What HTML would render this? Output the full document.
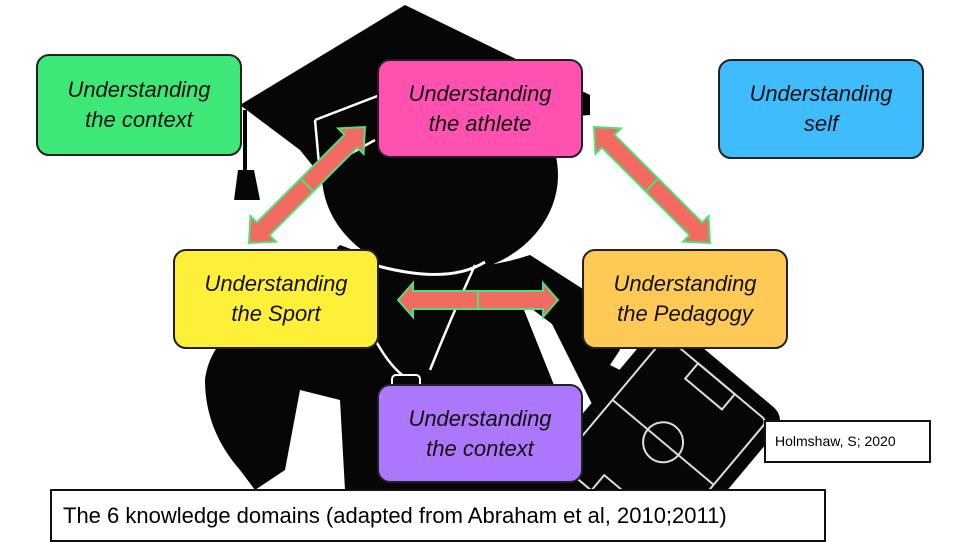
<!DOCTYPE html>
<html><head><meta charset="utf-8"><style>
body{margin:0;width:960px;height:540px;background:#fff;overflow:hidden;position:relative;font-family:"Liberation Sans",sans-serif}
.b{position:absolute;border:2px solid #222;border-radius:13px;box-sizing:border-box;display:flex;align-items:center;justify-content:center;text-align:center;font-style:italic;font-size:22px;line-height:30px;color:#111}
</style></head><body>
<svg width="960" height="540" style="position:absolute;left:0;top:0">
<!-- body -->
<path d="M205,380 Q210,330 290,290 L340,245 Q440,285 530,255 L600,300 L620,350 L600,380 L560,330 L520,300 L560,400 L570,490 L345,490 L340,400 L300,390 L285,470 L255,490 L240,470 Q205,430 205,380 Z" fill="#060606"/>
<path d="M540,300 L600,360 L640,380 L600,420 Z" fill="#060606"/>
<!-- head -->
<ellipse cx="440" cy="175" rx="118" ry="100" fill="#060606"/>
<!-- cap -->
<path d="M240,105 L405,5 L590,95 L590,115 L470,125 L320,175 L300,150 Z" fill="#060606"/>
<path d="M315,120 L320,175 M315,120 L380,95" stroke="#fff" stroke-width="2.5" fill="none"/>
<path d="M330,165 L375,140" stroke="#fff" stroke-width="2.5"/>
<!-- tassel -->
<line x1="245" y1="110" x2="245" y2="170" stroke="#060606" stroke-width="4"/>
<path d="M238,170 L254,170 L260,200 L234,200 Z" fill="#060606"/>
<!-- lanyard -->
<path d="M335,245 Q345,290 370,330 Q390,370 410,380 M475,265 Q450,320 430,370" stroke="#fff" stroke-width="2.5" fill="none"/>
<path d="M343,255 Q440,290 485,262" stroke="#fff" stroke-width="3" fill="none"/>
<rect x="392" y="375" width="28" height="22" rx="4" fill="#060606" stroke="#fff" stroke-width="2"/>
<!-- clipboard -->
<g transform="translate(665,440) rotate(40)">
<rect x="-80" y="-95" width="160" height="195" rx="18" fill="#060606"/>
<rect x="-66" y="-80" width="132" height="166" rx="6" fill="none" stroke="#ddd" stroke-width="2"/>
<line x1="-66" y1="3" x2="66" y2="3" stroke="#ddd" stroke-width="2"/>
<ellipse cx="0" cy="3" rx="20" ry="20" fill="none" stroke="#ddd" stroke-width="2"/>
<rect x="-24" y="-80" width="48" height="20" fill="none" stroke="#ddd" stroke-width="2"/>
<rect x="-24" y="66" width="48" height="20" fill="none" stroke="#ddd" stroke-width="2"/>
</g>
<!-- arrows -->
<g fill="#f26b63" stroke="#4ee07a" stroke-width="2">
<g transform="translate(307,185) rotate(-45)">
<path d="M-82,0 L-62,-18 L-62,-9 L62,-9 L62,-18 L82,0 L62,18 L62,9 L-62,9 L-62,18 Z"/><line x1="0" y1="-9" x2="0" y2="9"/></g>
<g transform="translate(652,185) rotate(45)">
<path d="M-82,0 L-62,-18 L-62,-9 L62,-9 L62,-18 L82,0 L62,18 L62,9 L-62,9 L-62,18 Z"/><line x1="0" y1="-9" x2="0" y2="9"/></g>
<g transform="translate(478,300)">
<path d="M-80,0 L-65,-17 L-65,-9 L65,-9 L65,-17 L80,0 L65,17 L65,9 L-65,9 L-65,17 Z"/><line x1="0" y1="-9" x2="0" y2="9"/></g>
</g>
</svg>
<div class="b" style="left:36px;top:54px;width:206px;height:102px;background:#3de878">Understanding<br>the context</div>
<div class="b" style="left:377px;top:59px;width:206px;height:99px;background:#ff52b0">Understanding<br>the athlete</div>
<div class="b" style="left:718px;top:59px;width:206px;height:100px;background:#3fbcfd">Understanding<br>self</div>
<div class="b" style="left:173px;top:249px;width:206px;height:100px;background:#feef38">Understanding<br>the Sport</div>
<div class="b" style="left:582px;top:249px;width:206px;height:100px;background:#feca55">Understanding<br>the Pedagogy</div>
<div class="b" style="left:377px;top:384px;width:206px;height:99px;background:#ac77fc">Understanding<br>the context</div>
<div style="position:absolute;left:764px;top:420px;width:167px;height:43px;border:2px solid #111;box-sizing:border-box;background:#fff;font-size:14px;line-height:39px;padding-left:9px">Holmshaw, S; 2020</div>
<div style="position:absolute;left:50px;top:489px;width:776px;height:53px;border:2px solid #111;box-sizing:border-box;background:#fff;font-size:22px;line-height:50px;padding-left:11px;white-space:nowrap">The 6 knowledge domains (adapted from Abraham et al, 2010;2011)</div>
</body></html>
